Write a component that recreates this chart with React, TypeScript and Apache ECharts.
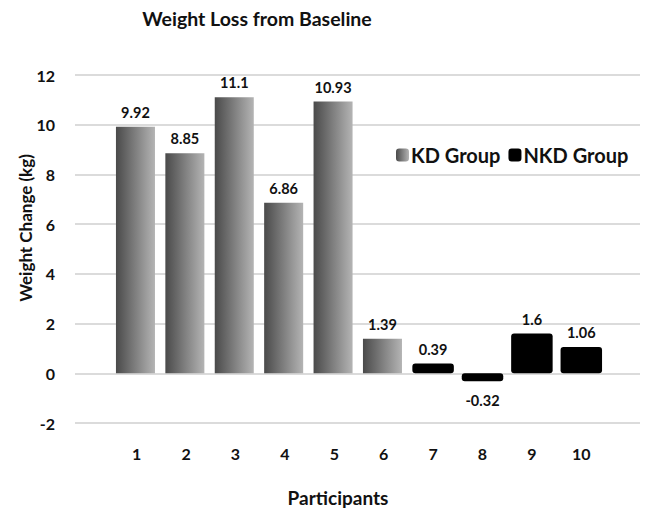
import React, { useEffect, useRef } from "react";
import * as echarts from "echarts";

const categories = ["1", "2", "3", "4", "5", "6", "7", "8", "9", "10"];
const kdValues: (number | string)[] = [9.92, 8.85, 11.1, 6.86, 10.93, 1.39, "-", "-", "-", "-"];
const nkdValues: (number | string)[] = ["-", "-", "-", "-", "-", "-", 0.39, -0.32, 1.6, 1.06];
const yTicks = { min: -2, max: 12, interval: 2 };

const FONT = "Lato, 'Open Sans', sans-serif";

export default function App() {
  const ref = useRef<HTMLDivElement>(null);
  useEffect(() => {
    const chart = echarts.init(ref.current!, undefined, { renderer: "svg" });
    const kdGrad = {
      type: "linear",
      x: 0,
      y: 0,
      x2: 1,
      y2: 0,
      colorStops: [
        { offset: 0, color: "#4a4a4a" },
        { offset: 1, color: "#b4b4b4" },
      ],
    };
    const labelCommon = {
      show: true,
      fontFamily: FONT,
      fontWeight: "bold",
      fontSize: 14.5,
      color: "#111",
      distance: 7,
    };
    chart.setOption({
      animation: false,
      backgroundColor: "#fff",
      textStyle: { fontFamily: FONT },
      grid: [
        { left: 75, right: 8, top: 75, bottom: 88 },
        { left: 112, right: 42, top: 75, bottom: 88 },
      ],
      xAxis: [
        { type: "category", gridIndex: 0, data: [""], show: false },
        {
          type: "category",
          gridIndex: 1,
          data: categories,
          axisLine: { show: false },
          axisTick: { show: false },
          axisLabel: {
            fontFamily: FONT,
            fontWeight: "bold",
            fontSize: 16,
            color: "#111",
            margin: 22,
          },
        },
      ],
      yAxis: [
        {
          type: "value",
          gridIndex: 0,
          min: yTicks.min,
          max: yTicks.max,
          interval: yTicks.interval,
          axisLine: { show: false },
          axisTick: { show: false },
          axisLabel: {
            fontFamily: FONT,
            fontWeight: "bold",
            fontSize: 16,
            color: "#111",
            margin: 20,
          },
          splitLine: { lineStyle: { color: "#cfcfcf", width: 1.5 } },
        },
        {
          type: "value",
          gridIndex: 1,
          min: yTicks.min,
          max: yTicks.max,
          interval: yTicks.interval,
          show: false,
          splitLine: { show: false },
        },
      ],
      legend: {
        left: 391,
        top: 140,
        itemWidth: 13,
        itemHeight: 13,
        itemGap: 8,
        textStyle: {
          fontFamily: FONT,
          fontWeight: "bold",
          fontSize: 20,
          color: "#111",
          padding: [0, 0, 0, -3],
        },
        data: ["KD Group", "NKD Group"],
      },
      series: [
        {
          name: "KD Group",
          type: "bar",
          xAxisIndex: 1,
          yAxisIndex: 1,
          barWidth: "79%",
          barGap: "-100%",
          itemStyle: { color: kdGrad },
          label: { ...labelCommon, position: "top" },
          data: kdValues,
        },
        {
          name: "NKD Group",
          type: "bar",
          xAxisIndex: 1,
          yAxisIndex: 1,
          barWidth: "84%",
          itemStyle: { color: "#000", borderRadius: 3 },
          label: { ...labelCommon, position: "top" },
          data: nkdValues.map((v) =>
            typeof v === "number" && v < 0
              ? { value: v, label: { position: "bottom", distance: 12 } }
              : v
          ),
        },
      ],
      graphic: [
        {
          type: "text",
          x: 257,
          y: 18,
          style: {
            text: "Weight Loss from Baseline",
            fontFamily: FONT,
            fontWeight: "bold",
            fontSize: 19.5,
            fill: "#111",
            textAlign: "center",
            textVerticalAlign: "middle",
          },
        },
        {
          type: "text",
          x: 338,
          y: 497,
          style: {
            text: "Participants",
            fontFamily: FONT,
            fontWeight: "bold",
            fontSize: 19,
            fill: "#111",
            textAlign: "center",
            textVerticalAlign: "middle",
          },
        },
        {
          type: "text",
          x: 25,
          y: 228,
          rotation: Math.PI / 2,
          style: {
            text: "Weight Change (kg)",
            fontFamily: FONT,
            fontWeight: "bold",
            fontSize: 17,
            fill: "#111",
            textAlign: "center",
            textVerticalAlign: "middle",
          },
        },
      ],
    });
    return () => chart.dispose();
  }, []);
  return (
    <div
      ref={ref}
      style={{ position: "absolute", left: 0, top: 0, width: 648, height: 511 }}
    />
  );
}
